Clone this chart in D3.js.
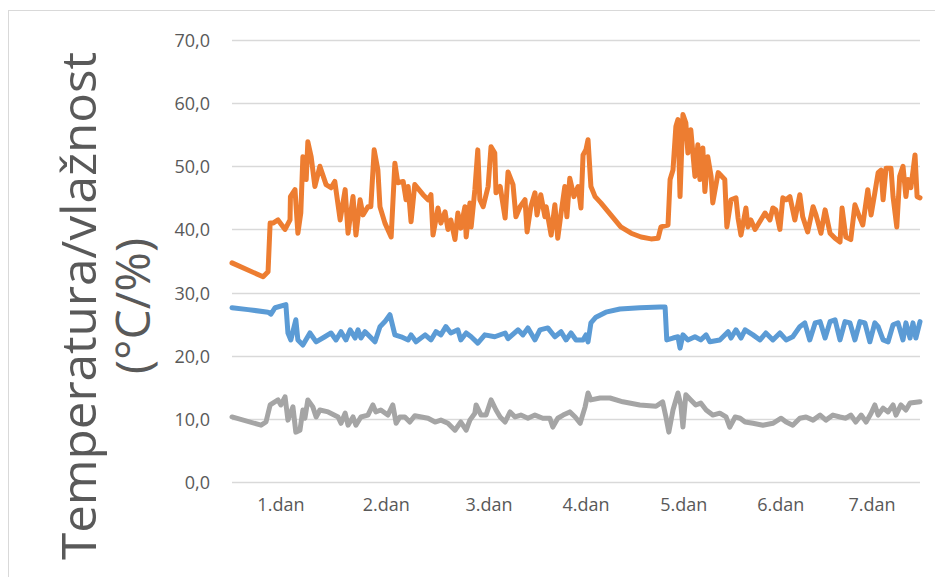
<!DOCTYPE html>
<html lang="hr">
  <head>
    <meta charset="UTF-8" />
    <title>Temperatura/vlažnost</title>
    <script src="https://cdn.jsdelivr.net/npm/d3@7"></script>
    <style>
      body { margin: 0; background: #fff; }
      svg { display: block; }
    </style>
  </head>
  <body>
    <div id="chart"></div>
    <script>
      // vrijeme u satima od početka mjerenja
      const dayTicks = [11.8, 37.2, 62.0, 85.4, 109.0, 132.4, 154.4];
      const dayLabels = ["1.dan", "2.dan", "3.dan", "4.dan", "5.dan", "6.dan", "7.dan"];
      const yTicks = [0, 10, 20, 30, 40, 50, 60, 70];

      // narančasta serija
      const humT = [0, 7.5, 8.7, 9.2, 9.9, 11.1, 12.8, 14.0, 14.1, 15.2, 15.9, 16.6, 17.1, 17.9, 18.3, 19.1, 20.0, 21.2, 22.7, 23.9,
        24.8, 26.1, 27.3, 28.0, 29.2, 29.9, 30.9, 31.6, 32.8, 33.5, 34.3, 35.2, 35.7, 36.9, 38.4, 39.3, 40.0, 41.3, 42.0, 42.5,
        43.2, 44.1, 46.1, 47.3, 48.0, 48.5, 49.7, 50.4, 51.4, 52.1, 52.8, 53.8, 54.5, 55.2, 56.2, 56.5, 57.4, 57.7, 58.6, 59.3,
        59.8, 60.6, 61.8, 62.5, 63.4, 63.7, 64.7, 65.9, 66.6, 67.8, 68.5, 69.5, 70.7, 71.2, 72.1, 73.1, 73.6, 74.5, 75.5, 75.8,
        77.0, 77.9, 78.6, 79.4, 80.3, 80.8, 81.5, 82.5, 83.5, 84.2, 84.7, 85.4, 85.9, 86.6, 87.6, 89.0, 91.4, 93.8, 96.3, 98.7,
        101.1, 102.8, 103.5, 105.2, 105.7, 106.4, 107.1, 107.6, 108.1, 108.8, 109.5, 110.0, 110.7, 111.7, 112.4, 112.9, 113.6, 114.1, 114.8, 115.6,
        116.0, 117.3, 118.9, 119.4, 120.4, 121.6, 122.1, 122.8, 124.0, 124.5, 125.2, 126.2, 128.6, 129.8, 130.5, 131.2, 132.2, 132.9, 133.7, 134.6,
        135.8, 137.0, 137.7, 138.9, 140.2, 140.9, 142.1, 143.1, 144.3, 145.5, 146.7, 147.2, 148.1, 149.3, 150.3, 151.5, 152.2, 153.4, 154.2, 155.1,
        155.9, 156.6, 157.1, 157.8, 159.0, 159.5, 160.4, 161.1, 161.9, 162.6, 163.1, 163.8, 164.8, 165.3, 166.0];
      const humV = [34.7, 32.5, 33.3, 41.0, 41.0, 41.5, 40.0, 41.5, 45.2, 46.3, 39.4, 42.6, 51.5, 47.9, 53.9, 51.5, 46.8, 50.0, 47.1, 46.6,
        47.6, 41.5, 46.3, 39.4, 45.2, 39.1, 44.7, 42.3, 43.6, 43.6, 52.6, 49.4, 43.6, 41.0, 38.8, 50.5, 47.4, 47.6, 44.7, 46.8,
        41.2, 47.1, 45.5, 44.7, 45.5, 39.1, 43.4, 41.0, 42.8, 40.0, 41.5, 38.4, 42.6, 40.2, 43.6, 38.8, 44.2, 40.4, 46.3, 52.6,
        44.7, 43.6, 46.8, 53.1, 52.1, 45.8, 46.8, 41.8, 49.1, 47.1, 42.0, 43.6, 44.7, 39.6, 43.6, 45.8, 42.3, 45.5, 42.0, 43.6,
        39.1, 43.9, 38.6, 42.6, 46.8, 42.0, 48.1, 45.2, 46.8, 43.4, 51.8, 52.6, 54.2, 46.8, 45.2, 44.2, 42.3, 40.4, 39.4, 38.8,
        38.5, 38.6, 40.4, 40.7, 47.9, 49.4, 56.3, 57.4, 45.2, 58.2, 56.9, 52.1, 55.8, 48.4, 53.4, 47.9, 52.9, 46.0, 51.5, 48.4,
        44.2, 49.0, 47.9, 40.4, 44.7, 45.0, 41.8, 39.1, 43.4, 40.4, 41.5, 40.0, 42.6, 41.5, 43.4, 43.1, 40.0, 45.0, 44.7, 45.2,
        41.5, 45.5, 42.0, 39.6, 43.6, 42.3, 39.4, 43.1, 39.4, 38.6, 38.0, 43.4, 38.8, 38.4, 43.9, 41.8, 40.7, 46.3, 42.3, 45.8,
        49.0, 49.4, 44.7, 49.7, 49.7, 45.2, 40.4, 48.4, 50.0, 45.2, 47.9, 46.6, 51.8, 45.2, 45.0];

      // plava serija
      const tempT = [0, 3.9, 8.7, 9.4, 10.4, 13.0, 13.5, 14.2, 15.4, 15.9, 17.1, 18.8, 20.3, 22.4, 23.9, 25.1, 26.3, 27.5, 28.5, 29.7,
        30.4, 31.1, 32.1, 34.5, 35.7, 36.9, 38.1, 39.3, 40.8, 42.5, 43.2, 44.4, 46.6, 48.0, 49.2, 50.4, 51.6, 52.8, 54.5, 55.2,
        56.5, 57.7, 59.3, 61.0, 63.4, 65.9, 66.6, 69.0, 70.2, 71.4, 73.1, 74.3, 76.2, 77.9, 79.4, 80.6, 81.8, 83.0, 84.7, 85.4,
        85.9, 86.6, 87.8, 90.2, 93.6, 98.4, 103.3, 104.5, 104.9, 106.4, 107.6, 108.1, 108.8, 110.0, 111.7, 113.1, 114.4, 115.3, 117.7, 119.7,
        120.4, 121.6, 122.8, 123.8, 125.7, 127.4, 128.8, 130.5, 132.2, 133.7, 135.3, 137.0, 138.2, 139.4, 140.7, 141.9, 143.1, 144.3, 145.5, 146.7,
        147.9, 149.1, 150.3, 151.5, 152.7, 153.9, 155.1, 155.9, 157.1, 158.3, 159.5, 160.7, 161.9, 162.6, 163.6, 164.3, 165.0, 166.0];
      const tempV = [27.6, 27.3, 26.9, 26.6, 27.6, 28.1, 23.6, 22.5, 25.7, 22.5, 21.7, 23.6, 22.2, 23.0, 23.6, 22.5, 23.8, 22.5, 24.1, 22.8,
        24.1, 22.8, 23.8, 22.2, 24.6, 25.4, 26.5, 23.3, 23.0, 22.5, 23.3, 22.2, 23.3, 22.5, 23.8, 23.3, 24.6, 23.6, 24.1, 22.5,
        23.6, 23.0, 22.0, 23.3, 23.0, 23.6, 22.7, 24.1, 23.3, 24.4, 22.5, 24.1, 24.4, 23.0, 23.8, 22.5, 23.6, 22.5, 22.5, 23.3,
        22.2, 25.2, 26.1, 26.9, 27.4, 27.6, 27.7, 27.7, 22.5, 22.8, 23.0, 21.2, 23.3, 22.5, 23.0, 22.5, 23.3, 22.2, 22.5, 23.8,
        22.8, 24.1, 22.8, 24.1, 23.3, 22.5, 23.6, 22.5, 23.6, 22.5, 23.0, 24.6, 25.2, 22.5, 25.2, 25.4, 22.8, 25.4, 25.7, 22.5,
        25.4, 25.2, 22.5, 25.4, 25.2, 22.2, 25.2, 24.6, 22.5, 22.2, 24.9, 25.2, 22.5, 25.2, 22.8, 25.2, 22.8, 25.4];

      // siva serija
      const outT = [0, 7.0, 8.2, 9.2, 11.1, 11.8, 12.8, 13.5, 14.7, 15.4, 16.4, 17.1, 17.6, 18.3, 19.5, 20.3, 21.2, 23.2, 25.6, 26.3,
        27.3, 28.0, 29.2, 29.9, 31.1, 32.8, 34.0, 34.7, 35.9, 37.6, 38.8, 39.6, 40.5, 41.7, 42.9, 44.1, 47.3, 49.0, 50.4, 52.1,
        53.8, 55.2, 56.5, 57.4, 58.6, 58.9, 60.1, 61.3, 62.5, 63.7, 64.7, 65.9, 67.1, 68.3, 69.7, 71.4, 73.1, 75.0, 76.7, 77.4,
        78.6, 79.9, 81.5, 82.8, 84.0, 85.2, 85.9, 86.6, 88.8, 91.2, 94.3, 98.4, 102.3, 103.9, 104.7, 105.4, 106.4, 107.6, 108.3, 108.8,
        109.5, 110.7, 111.9, 113.1, 114.4, 116.0, 117.7, 119.2, 120.1, 121.4, 122.6, 123.8, 125.7, 128.1, 130.5, 132.5, 133.7, 135.3, 137.0, 138.5,
        140.2, 141.9, 143.3, 145.0, 146.7, 148.1, 149.3, 150.5, 151.8, 153.0, 154.2, 155.1, 155.9, 157.1, 158.3, 159.5, 160.2, 161.4, 162.6, 163.6, 166.0];
      const outV = [10.3, 9.0, 9.5, 12.2, 13.0, 12.2, 13.5, 9.8, 11.9, 7.9, 8.2, 11.4, 10.1, 13.0, 11.9, 10.3, 11.4, 11.1, 10.3, 9.3,
        10.9, 9.0, 10.3, 9.0, 10.3, 10.6, 12.2, 11.1, 11.4, 10.6, 12.2, 9.3, 10.3, 10.3, 9.5, 10.5, 10.1, 9.5, 9.8, 9.3,
        8.2, 9.5, 8.2, 9.8, 10.9, 12.2, 10.6, 10.6, 13.0, 11.4, 10.3, 9.5, 11.1, 10.3, 10.6, 10.1, 10.6, 10.1, 10.1, 8.7,
        10.1, 10.6, 11.1, 10.3, 9.3, 11.9, 14.1, 13.0, 13.3, 13.3, 12.7, 12.2, 12.0, 12.7, 10.3, 7.9, 11.4, 14.1, 12.2, 8.7,
        13.8, 13.0, 12.2, 12.5, 11.4, 10.6, 10.9, 10.3, 8.7, 10.3, 10.1, 9.5, 9.3, 9.0, 9.3, 10.1, 9.5, 9.0, 10.1, 10.3,
        9.8, 10.6, 9.8, 10.6, 10.3, 10.1, 10.6, 9.5, 10.6, 9.5, 10.9, 12.2, 10.6, 11.7, 11.1, 12.2, 10.6, 12.2, 11.4, 12.5, 12.7];

      const width = 935;
      const height = 577;
      const margin = { left: 232, right: 15, top: 40, bottom: 95 };

      const svg = d3.select("#chart").append("svg")
        .attr("width", width)
        .attr("height", height);

      // okvir grafikona
      svg.append("rect")
        .attr("x", 8.5).attr("y", 10.5)
        .attr("width", width).attr("height", height)
        .attr("fill", "none")
        .attr("stroke", "#d9d9d9");

      const x = d3.scaleLinear()
        .domain([0, 166])
        .range([margin.left, width - margin.right]);

      const y = d3.scaleLinear()
        .domain([0, 70])
        .range([height - margin.bottom, margin.top]);

      // mreža
      svg.append("g")
        .selectAll("line")
        .data(yTicks)
        .enter()
        .append("line")
        .attr("x1", x(0)).attr("x2", x(166))
        .attr("y1", (d) => Math.round(y(d)) + 0.5)
        .attr("y2", (d) => Math.round(y(d)) + 0.5)
        .attr("stroke", "#d9d9d9")
        .attr("stroke-width", 1.3);

      // oznake osi y
      svg.append("g")
        .selectAll("text")
        .data(yTicks)
        .enter()
        .append("text")
        .attr("x", 210)
        .attr("y", (d) => y(d) + 7)
        .attr("text-anchor", "end")
        .attr("font-family", "'Open Sans', sans-serif")
        .attr("font-size", 18)
        .attr("fill", "#595959")
        .text((d) => d3.format(".1f")(d).replace(".", ","));

      // oznake dana
      svg.append("g")
        .selectAll("text")
        .data(dayTicks)
        .enter()
        .append("text")
        .attr("x", (d) => x(d))
        .attr("y", 511)
        .attr("text-anchor", "middle")
        .attr("font-family", "'Open Sans', sans-serif")
        .attr("font-size", 18)
        .attr("fill", "#595959")
        .text((d, i) => dayLabels[i]);

      // naslov osi y
      const title = svg.append("text")
        .attr("transform", "translate(96,306) rotate(-90)")
        .attr("text-anchor", "middle")
        .attr("font-family", "'Open Sans', sans-serif")
        .attr("font-size", 48)
        .attr("fill", "#595959");
      title.append("tspan").attr("x", 0).attr("y", 0)
        .attr("textLength", 508).attr("lengthAdjust", "spacingAndGlyphs")
        .text("Temperatura/vlažnost");
      title.append("tspan").attr("x", 0).attr("y", 54).text("(°C/%)");

      const line = d3.line()
        .x((d) => x(d[0]))
        .y((d) => y(d[1]));

      const series = [
        { t: outT, v: outV, color: "#A5A5A5" },
        { t: tempT, v: tempV, color: "#5B9BD5" },
        { t: humT, v: humV, color: "#ED7D31" }
      ];

      svg.append("g")
        .selectAll("path")
        .data(series)
        .enter()
        .append("path")
        .attr("d", (s) => line(s.t.map((t, i) => [t, s.v[i]])))
        .attr("fill", "none")
        .attr("stroke", (s) => s.color)
        .attr("stroke-width", 5)
        .attr("stroke-linejoin", "round")
        .attr("stroke-linecap", "round");
    </script>
  </body>
</html>
